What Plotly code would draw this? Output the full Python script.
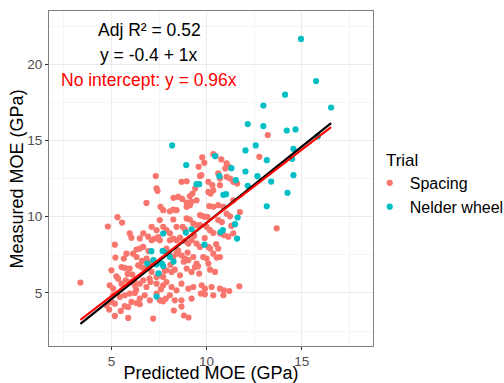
import plotly.graph_objects as go

# ---- Data (GPa) ----
spacing_pred = [13.21,12.77,9.77,10.35,10.47,10.77,11.05,11.16,10.98,9.88,9.58,9.65,9.72,7.33,7.37,7.42,8.68,8.95,10.09,10.30,
10.61,10.70,11.05,11.23,11.40,11.61,9.40,9.26,9.12,8.26,8.51,8.72,6.84,7.58,7.72,8.07,8.25,8.42,8.95,9.21,
9.47,10.09,10.21,10.35,10.70,10.14,10.35,10.61,10.88,11.40,11.75,11.05,11.23,8.95,9.12,9.65,9.79,9.89,10.04,8.95,
9.12,8.25,7.54,7.72,7.11,7.37,6.67,6.49,6.93,7.89,8.07,8.42,8.74,8.86,9.30,9.47,9.65,10.00,10.18,10.35,
10.61,10.70,10.91,11.40,11.14,5.96,6.05,6.32,6.49,6.67,7.11,7.28,7.46,7.54,8.07,8.25,8.42,8.60,8.86,9.04,
9.21,9.47,9.65,10.09,10.18,10.35,10.61,10.70,10.53,6.14,6.32,5.79,5.65,6.84,7.11,7.89,8.04,8.25,8.42,8.68,
8.86,9.04,9.30,9.47,9.82,10.00,10.09,5.53,5.70,5.96,6.40,6.58,6.75,6.93,7.11,7.37,7.54,7.72,7.89,8.16,
8.33,8.60,8.95,9.21,9.39,9.61,10.18,10.44,5.26,5.35,5.53,5.75,6.00,6.23,6.49,6.67,6.84,7.05,7.37,7.72,
7.89,8.16,8.42,8.68,9.04,9.30,9.74,9.91,10.26,10.70,10.91,11.19,11.72,4.91,5.09,5.09,5.00,5.18,5.44,5.70,
5.96,6.23,6.49,6.75,7.02,7.37,7.54,7.86,8.07,8.33,8.68,9.21,9.70,9.91,10.35,10.88,4.74,4.88,5.18,5.49,
5.70,5.88,6.05,6.32,6.49,7.19,7.58,7.72,8.28,8.68,8.81,9.05,5.88,13.68,4.81,5.32,5.56,5.18,5.21,5.00,
3.37,6.10,6.60,7.80,8.50,9.00,9.90,10.50,6.30,7.00,7.60,8.80,9.55,10.80,5.85,6.95,8.10,9.35,11.30,6.20]
spacing_meas = [15.36,13.93,13.89,14.11,13.98,13.76,13.50,13.28,13.17,13.54,13.28,12.67,12.73,12.67,11.86,11.70,12.29,12.33,12.29,12.07,
12.84,12.51,12.62,12.51,12.29,12.18,11.85,11.52,11.35,11.24,11.30,11.17,10.91,10.65,10.43,10.36,10.47,10.43,10.93,10.98,
11.08,11.63,11.52,11.74,12.07,10.70,10.65,10.76,10.65,11.08,10.31,10.20,10.03,10.65,10.76,10.11,10.05,10.00,10.00,9.89,
9.82,9.82,9.78,9.34,9.34,9.12,8.91,8.58,8.69,9.12,8.91,9.34,9.34,9.17,9.56,9.45,9.45,9.34,9.12,8.94,
9.78,8.91,8.80,8.91,8.69,8.91,8.62,7.85,7.91,8.02,8.46,8.57,8.67,8.46,8.46,8.57,8.46,8.63,8.41,8.24,
8.46,8.24,8.02,8.02,7.91,7.58,7.91,7.36,7.32,7.58,7.36,7.58,7.26,7.26,7.04,7.91,7.58,7.36,7.58,7.47,
7.26,7.15,7.36,6.93,7.36,7.26,6.93,6.70,6.64,6.60,6.81,6.70,6.60,6.70,6.38,6.05,6.16,6.05,6.49,6.38,
6.53,6.16,6.60,6.38,6.70,6.27,6.53,6.38,6.09,5.94,5.61,5.83,5.72,5.50,5.61,5.83,5.39,5.72,5.61,5.50,
5.72,5.39,5.17,5.61,5.28,5.39,5.50,5.28,5.39,5.28,5.17,5.13,5.44,5.50,5.28,4.85,4.41,4.30,4.74,4.85,
4.96,5.00,4.63,4.85,4.52,4.96,4.52,4.63,4.85,4.52,4.52,4.63,4.96,4.91,4.85,4.85,4.19,3.91,3.49,3.82,
4.13,4.08,4.41,4.34,4.26,3.32,4.52,4.45,3.85,4.11,3.52,3.39,3.36,9.24,9.36,9.97,9.62,8.17,7.32,6.49,
5.68,6.20,7.10,6.45,7.80,7.65,8.60,8.20,5.20,5.95,5.25,7.05,6.75,9.65,6.25,7.75,6.85,8.75,9.40,5.80]

nelder_pred = [14.96,15.75,14.12,12.98,16.54,12.16,12.98,14.21,14.67,15.84,8.19,12.58,12.04,14.56,10.44,14.49,13.16,8.93,11.30,12.04,
10.67,14.56,12.67,11.53,13.39,9.61,9.47,12.16,14.25,11.02,10.88,13.16,11.63,9.21,11.49,10.74,10.85,8.91,11.60,9.89,
7.72,7.10,7.69,7.93,7.21,6.88,7.65,8.26,7.47,7.37,7.37,7.72,8.07]
nelder_meas = [21.67,18.90,18.01,17.30,17.17,16.08,15.95,15.66,15.73,15.27,14.68,14.68,14.35,14.46,13.98,13.80,13.71,13.39,13.19,12.97,
12.66,12.73,12.66,12.40,12.31,12.14,12.14,12.03,11.57,11.48,11.44,10.69,9.95,9.18,9.51,9.00,9.12,8.96,8.57,8.17,
8.90,7.74,7.76,7.59,7.15,6.93,6.93,7.06,6.29,4.76,6.88,6.77,7.36]

fit_intercept = -0.4
fit_slope = 1.0
noint_slope = 0.96

all_pred = spacing_pred + nelder_pred
x_lo, x_hi = min(all_pred), max(all_pred)

FONT = "Liberation Sans, Arial, sans-serif"
RED = "#F8766D"
TEAL = "#00BFC4"

fig = go.Figure()
fig.add_trace(go.Scatter(x=spacing_pred, y=spacing_meas, mode="markers", name="Spacing",
                         marker=dict(color=RED, size=6.2, line=dict(width=0))))
fig.add_trace(go.Scatter(x=nelder_pred, y=nelder_meas, mode="markers", name="Nelder wheel",
                         marker=dict(color=TEAL, size=6.2, line=dict(width=0))))
fig.add_trace(go.Scatter(x=[x_lo, x_hi], y=[fit_intercept + fit_slope * x_lo, fit_intercept + fit_slope * x_hi],
                         mode="lines", line=dict(color="black", width=2.3), showlegend=False, hoverinfo="skip"))
fig.add_trace(go.Scatter(x=[x_lo, x_hi], y=[noint_slope * x_lo, noint_slope * x_hi],
                         mode="lines", line=dict(color="#FF0000", width=2), showlegend=False, hoverinfo="skip"))

fig.add_annotation(x=6.99, y=22.25, xref="x", yref="y", text="Adj R² = 0.52", showarrow=False,
                   font=dict(family=FONT, size=17.5, color="black"))
fig.add_annotation(x=6.99, y=20.6, xref="x", yref="y", text="y = -0.4 + 1x", showarrow=False,
                   font=dict(family=FONT, size=17.5, color="black"))
fig.add_annotation(x=6.99, y=18.95, xref="x", yref="y", text="No intercept: y = 0.96x", showarrow=False,
                   font=dict(family=FONT, size=17.5, color="#FF0000"))
# y-axis title placed precisely
fig.add_annotation(x=-0.099, y=0.5, xref="paper", yref="paper", text="Measured MOE (GPa)", showarrow=False,
                   textangle=-90, xanchor="center", yanchor="middle",
                   font=dict(family=FONT, size=18, color="black"))

axis_common = dict(
    showgrid=True, gridcolor="#EBEBEB", gridwidth=1,
    minor=dict(showgrid=True, gridcolor="#F5F5F5", gridwidth=0.6, dtick=2.5, ticks=""),
    zeroline=False, showline=True, linecolor="#7F7F7F", linewidth=1, mirror=True,
    ticks="outside", ticklen=3, tickcolor="#333333", tickwidth=1,
    tickfont=dict(family=FONT, size=13.5, color="#4D4D4D"),
)
fig.update_xaxes(range=[1.72, 18.74], tickvals=[5, 10, 15], dtick=5, tick0=0,
                 title=dict(text="Predicted MOE (GPa)", font=dict(family=FONT, size=18, color="black"), standoff=3),
                 **axis_common)
fig.update_yaxes(range=[1.52, 23.5], tickvals=[5, 10, 15, 20], dtick=5, tick0=0,
                 **axis_common)

fig.update_layout(
    width=504, height=383,
    margin=dict(l=49, r=131, t=11, b=37, autoexpand=False),
    plot_bgcolor="white", paper_bgcolor="white",
    font=dict(family=FONT),
    legend=dict(x=0.99, xanchor="left", y=0.484, yanchor="middle",
                title=dict(text="\u00a0\u00a0\u00a0Trial", font=dict(family=FONT, size=17, color="black")),
                font=dict(family=FONT, size=16, color="black"), itemsizing="trace",
                bgcolor="rgba(0,0,0,0)", tracegroupgap=0),
)

fig.write_html("out.html", config={"displayModeBar": False},
               post_script="document.body.style.margin='0px';")
